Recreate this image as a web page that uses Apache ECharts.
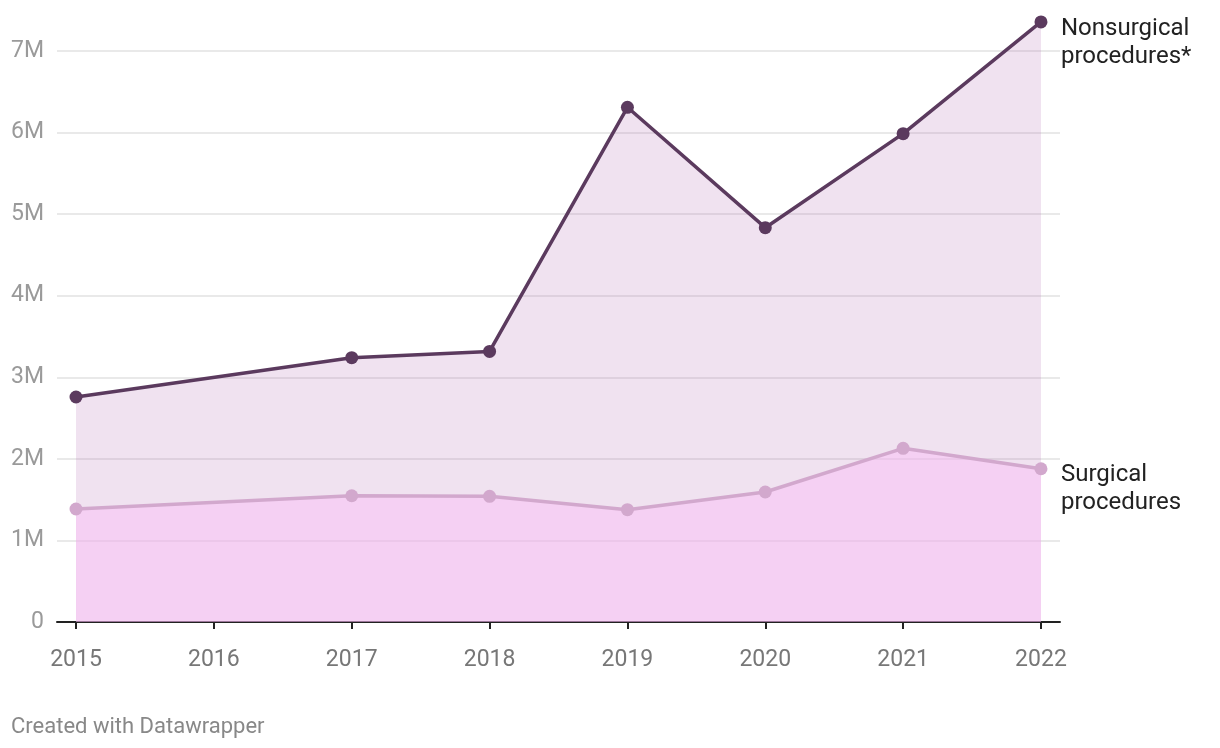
<!DOCTYPE html>
<html>
<head>
<meta charset="utf-8">
<script src="https://cdn.jsdelivr.net/npm/echarts@6/dist/echarts.min.js"></script>
<style>
  html, body { margin: 0; padding: 0; background: #fff; }
  #chart { width: 1220px; height: 748px; }
</style>
</head>
<body>
<div id="chart"></div>
<script>
const years = [2015, 2017, 2018, 2019, 2020, 2021, 2022];
const nonsurgical = [2758000, 3240000, 3317000, 6310000, 4834000, 5987000, 7356000];
const surgical = [1385000, 1548000, 1541000, 1377000, 1594000, 2129000, 1879000];
const xTickYears = [2015, 2016, 2017, 2018, 2019, 2020, 2021, 2022];
const seriesLabels = ['Nonsurgical\nprocedures*', 'Surgical\nprocedures'];
const footer = 'Created with Datawrapper';

const FONT = 'Roboto, "Noto Sans", sans-serif';

function buildData(values, labelText, offsetY) {
  return years.map((y, i) => {
    const item = { value: [y, values[i]] };
    if (i === years.length - 1) {
      item.label = {
        show: true,
        position: 'right',
        distance: 13.5,
        align: 'left',
        formatter: labelText,
        fontFamily: FONT,
        fontSize: 24,
        lineHeight: 28,
        color: '#222',
        offset: [0, offsetY]
      };
    }
    return item;
  });
}

const chart = echarts.init(document.getElementById('chart'), null, { renderer: 'canvas' });
chart.setOption({
  animation: false,
  backgroundColor: '#fff',
  title: {
    text: footer,
    left: 11,
    top: 716,
    padding: 0,
    textStyle: { fontFamily: FONT, fontSize: 22, fontWeight: 'normal', color: '#888' }
  },
  grid: { left: 57, right: 160, top: 51, bottom: 126, containLabel: false },
  xAxis: {
    type: 'value',
    min: 2014.862,
    max: 2022.138,
    axisLine: { show: true, lineStyle: { color: '#222', width: 2 } },
    axisTick: { show: true, customValues: xTickYears, length: 7, lineStyle: { color: '#222', width: 2 } },
    axisLabel: {
      customValues: xTickYears,
      formatter: v => String(v),
      color: '#777',
      fontFamily: FONT,
      fontSize: 23,
      margin: 27
    },
    splitLine: { show: false }
  },
  yAxis: {
    type: 'value',
    min: 0,
    max: 7000000,
    interval: 1000000,
    axisLine: { show: false },
    axisTick: { show: false },
    axisLabel: {
      formatter: v => v === 0 ? '0' : (v / 1000000) + 'M',
      color: '#9a9a9a',
      fontFamily: FONT,
      fontSize: 23,
      margin: 13
    },
    splitLine: { show: true, lineStyle: { color: '#e2e2e2', width: 1.5 } }
  },
  series: [
    {
      name: 'Nonsurgical procedures*',
      type: 'line',
      clip: false,
      data: buildData(nonsurgical, seriesLabels[0], 21),
      symbol: 'circle',
      symbolSize: 13,
      itemStyle: { color: '#5b3a5e' },
      lineStyle: { color: '#5b3a5e', width: 3.5 },
      areaStyle: { color: 'rgba(180,110,180,0.2)', opacity: 1, origin: 'start' },
      z: 2
    },
    {
      name: 'Surgical procedures',
      type: 'line',
      clip: false,
      data: buildData(surgical, seriesLabels[1], 20),
      symbol: 'circle',
      symbolSize: 13,
      itemStyle: { color: '#d2a8cd' },
      lineStyle: { color: '#d2a8cd', width: 3.5 },
      areaStyle: { color: 'rgba(250,190,246,0.5)', opacity: 1, origin: 'start' },
      z: 3
    }
  ]
});
</script>
</body>
</html>
